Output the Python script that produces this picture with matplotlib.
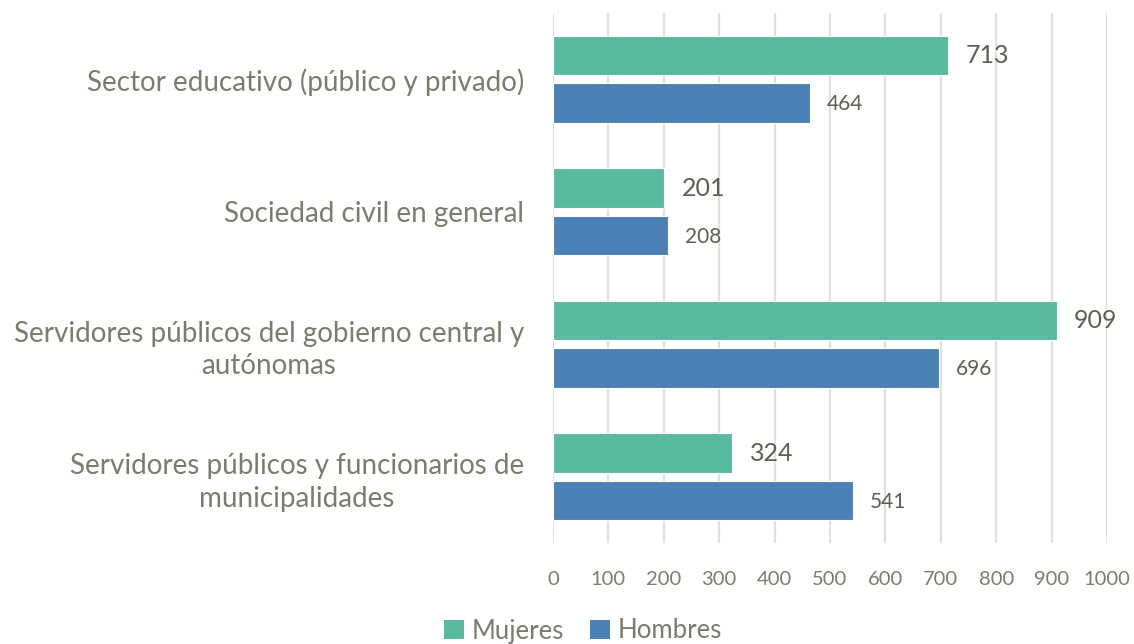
import matplotlib
matplotlib.use("Agg")
import matplotlib.pyplot as plt
import numpy as np
from matplotlib.patches import Patch

categories = [
    "Sector educativo (público y privado)",
    "Sociedad civil en general",
    "Servidores públicos del gobierno central y\nautónomas",
    "Servidores públicos y funcionarios de\nmunicipalidades",
]
mujeres = [713, 201, 909, 324]
hombres = [464, 208, 696, 541]
xticks = list(range(0, 1001, 100))

GREEN = "#58BA9E"
BLUE = "#4C81B8"
TXT = "#7B7B6E"
VAL = "#5E5E55"

plt.rcParams['font.family'] = ['Lato', 'DejaVu Sans']

fig = plt.figure(figsize=(11.34, 6.44), dpi=100)
ax = fig.add_axes([553/1134, 1-543/644, (1107-553)/1134, 530/644])

y = np.arange(len(categories))
h = 0.295
off = 0.179
ax.barh(y - off, mujeres, height=h, color=GREEN, edgecolor="white", linewidth=0.8, zorder=3)
ax.barh(y + off, hombres, height=h, color=BLUE, edgecolor="white", linewidth=0.8, zorder=3)

for v, yy in zip(mujeres, y - off):
    ax.text(v + 31, yy, str(v), va="center", ha="left", fontsize=18, color=VAL)
for v, yy in zip(hombres, y + off):
    ax.text(v + 31, yy + 0.01, str(v), va="center", ha="left", fontsize=15, color=VAL)

ax.set_xlim(0, 1000)
ax.set_ylim(3.5, -0.5)
ax.set_xticks(xticks)
ax.set_xticklabels([str(t) for t in xticks], fontsize=14.5, color=TXT)
ax.set_yticks(y)
ax.set_yticklabels(categories, fontsize=20, color=TXT, multialignment="center", linespacing=1.3)
ax.tick_params(axis="y", length=0, pad=21)
ax.tick_params(axis="x", length=0, pad=20)
for s in ax.spines.values():
    s.set_visible(False)
ax.grid(axis="x", color="#E3DFDB", linewidth=1.6, zorder=0)
ax.set_axisbelow(True)

handles = [Patch(facecolor=GREEN, label="Mujeres"), Patch(facecolor=BLUE, label="Hombres")]
fig.legend(handles=handles, loc="center", bbox_to_anchor=(583/1134, 1-631/644), ncol=2,
           frameon=False, fontsize=18.5, labelcolor=TXT, handlelength=0.8, handleheight=0.8,
           handletextpad=0.3, columnspacing=1.0)

fig.savefig("out.png", dpi=100)
